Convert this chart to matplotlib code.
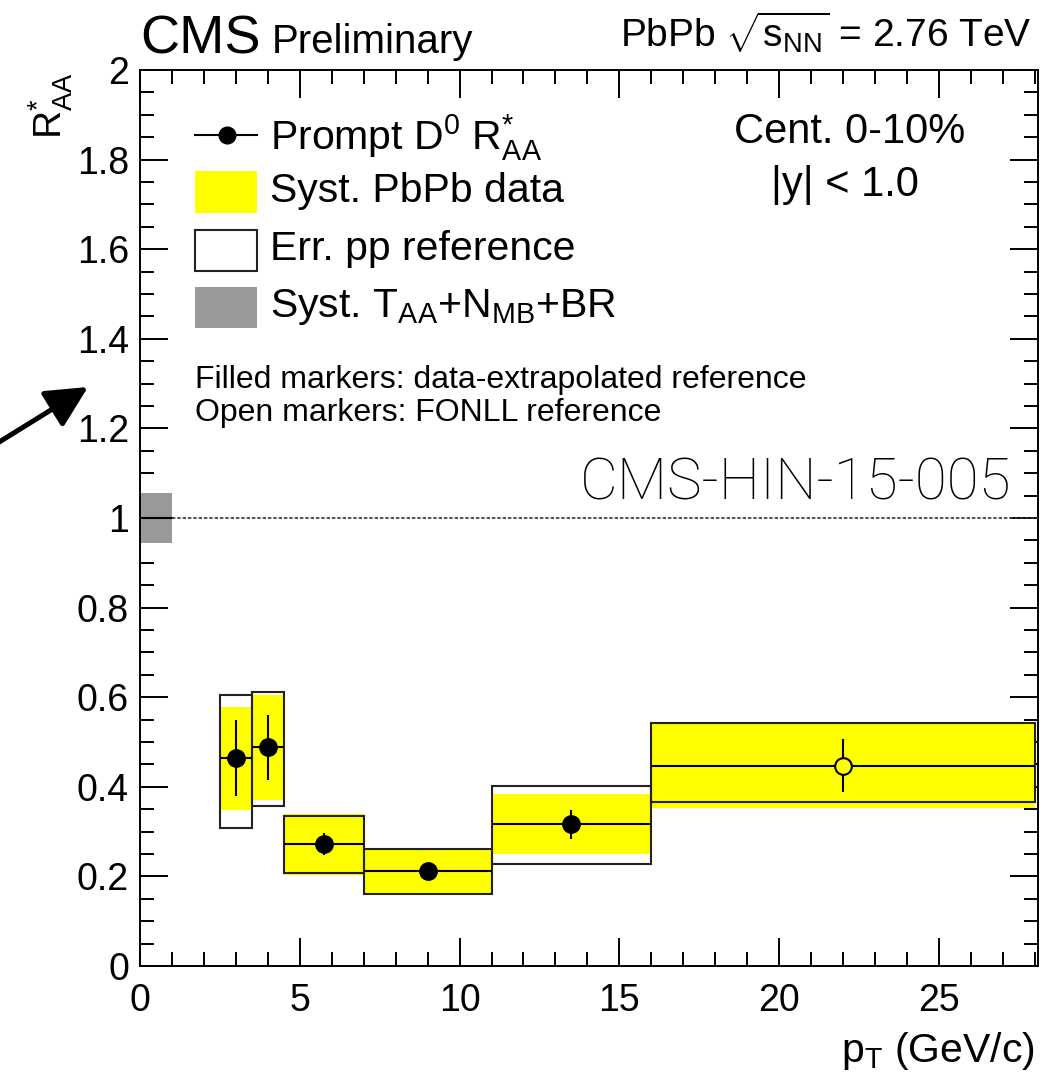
import matplotlib
matplotlib.use("Agg")
import matplotlib.pyplot as plt
from matplotlib.patches import Rectangle, FancyArrowPatch
from matplotlib.lines import Line2D
from matplotlib.ticker import MultipleLocator, FuncFormatter

# ---- D0 nuclear modification factor, PbPb 2.76 TeV, centrality 0-10% ----
pt_lo = [2.5, 3.5, 4.5, 7.0, 11.0, 16.0]
pt_hi = [3.5, 4.5, 7.0, 11.0, 16.0, 28.0]
pt_mean = [3.0, 4.0, 5.75, 9.0, 13.5, 22.0]
raa = [0.464, 0.488, 0.272, 0.211, 0.316, 0.447]
stat_err = [0.084, 0.072, 0.024, 0.012, 0.032, 0.059]
syst_pbpb = [0.115, 0.117, 0.068, 0.051, 0.067, 0.095]
pp_err_lo = [0.155, 0.130, 0.065, 0.051, 0.089, 0.080]
pp_err_hi = [0.141, 0.124, 0.062, 0.051, 0.086, 0.095]
fonll_ref = [False, False, False, False, False, True]
global_syst = 0.055

plt.rcParams["font.family"] = ["Liberation Sans", "DejaVu Sans"]
plt.rcParams["mathtext.fontset"] = "custom"
plt.rcParams["mathtext.rm"] = "Liberation Sans"
plt.rcParams["mathtext.it"] = "Liberation Sans:italic"
plt.rcParams["mathtext.bf"] = "Liberation Sans:bold"
plt.rcParams["mathtext.sf"] = "Liberation Sans"

W, H = 1042, 1085
fig = plt.figure(figsize=(W / 100, H / 100), dpi=100)


def fx(px):
    return px / W


def fy(py):
    return 1 - py / H


ax = fig.add_axes([fx(140), fy(966), fx(898), 896 / H])
ax.set_xlim(0, 28.1)
ax.set_ylim(0, 2)

YELLOW = "#ffff00"
GREY = "#999999"

# systematic (yellow) and pp-reference (open box) uncertainties
for lo, hi, r, s, el, eh in zip(pt_lo, pt_hi, raa, syst_pbpb, pp_err_lo, pp_err_hi):
    ax.add_patch(Rectangle((lo, r - s), hi - lo, 2 * s, facecolor=YELLOW,
                           edgecolor="none", zorder=2))
    ax.add_patch(Rectangle((lo, r - el), hi - lo, el + eh, fill=False,
                           edgecolor="#222222", lw=1.5, zorder=3))

# global normalisation uncertainty at unity
ax.add_patch(Rectangle((0, 1 - global_syst), 1, 2 * global_syst,
                       facecolor=GREY, edgecolor="none", zorder=2))
ax.plot([0, 1], [1, 1], color="black", lw=1.5, zorder=3)
ax.plot([1, 28.1], [1, 1], color="#333333", lw=1.2, dashes=(2.0, 1.2), zorder=3)

# statistical errors and bin widths
xerr_lo = [m - lo for m, lo in zip(pt_mean, pt_lo)]
xerr_hi = [hi - m for m, hi in zip(pt_mean, pt_hi)]
ax.errorbar(pt_mean, raa, xerr=[xerr_lo, xerr_hi], yerr=stat_err, fmt="none",
            ecolor="black", elinewidth=1.5, capsize=0, zorder=4)

filled_x = [x for x, f in zip(pt_mean, fonll_ref) if not f]
filled_y = [y for y, f in zip(raa, fonll_ref) if not f]
open_x = [x for x, f in zip(pt_mean, fonll_ref) if f]
open_y = [y for y, f in zip(raa, fonll_ref) if f]
ax.plot(filled_x, filled_y, "o", color="black", ms=12.5, zorder=5)
ax.plot(open_x, open_y, "o", mfc=YELLOW, mec="black", mew=1.5, ms=12, zorder=5)

# axes styling
for sp in ax.spines.values():
    sp.set_linewidth(1.4)
ax.xaxis.set_major_locator(MultipleLocator(5))
ax.xaxis.set_minor_locator(MultipleLocator(1))
ax.yaxis.set_major_locator(MultipleLocator(0.2))
ax.yaxis.set_minor_locator(MultipleLocator(0.05))
fmt = FuncFormatter(lambda v, _: "%g" % round(v, 3))
ax.xaxis.set_major_formatter(fmt)
ax.yaxis.set_major_formatter(fmt)
ax.tick_params(which="both", direction="in", top=True, right=True, width=1.4,
               labelsize=27)
ax.tick_params(which="major", length=20)
ax.tick_params(which="minor", length=10)
ax.tick_params(axis="x", pad=12)
ax.tick_params(axis="y", pad=8)

# axis titles
fig.text(fx(51), fy(72), r"R$^{*}_{\mathrm{AA}}$", rotation=90, ha="center",
         va="top", fontsize=28)
fig.text(fx(1035), fy(1062), r"p$_{\mathrm{T}}$ (GeV/c)", ha="right",
         va="baseline", fontsize=29.5)

# header
fig.text(fx(140), fy(53), "CMS", fontsize=39, ha="left", va="baseline")
fig.text(fx(272), fy(53), "Preliminary", fontsize=29, ha="left", va="baseline")
fig.text(fx(1032), fy(47), r"PbPb $\sqrt{\mathrm{s}_{\mathrm{NN}}}$ = 2.76 TeV",
         fontsize=28, ha="right", va="baseline")

# legend
fig.add_artist(Line2D([fx(195), fx(257)], [fy(135), fy(135)], color="black",
                      lw=1.5, transform=fig.transFigure))
fig.add_artist(Line2D([fx(227)], [fy(135)], marker="o", color="black", ms=12,
                      transform=fig.transFigure))
fig.add_artist(Rectangle((fx(195), fy(213)), fx(62), 42 / H, facecolor=YELLOW,
                         edgecolor="none", transform=fig.transFigure))
fig.add_artist(Rectangle((fx(195), fy(271)), fx(62), 41 / H, fill=False,
                         edgecolor="#222222", lw=1.5, transform=fig.transFigure))
fig.add_artist(Rectangle((fx(195), fy(328)), fx(62), 41 / H, facecolor=GREY,
                         edgecolor="none", transform=fig.transFigure))
leg_labels = [r"Prompt D$^{0}$ R$^{*}_{\mathrm{AA}}$", "Syst. PbPb data",
              "Err. pp reference",
              r"Syst. T$_{\mathrm{AA}}$+N$_{\mathrm{MB}}$+BR"]
for lab, base in zip(leg_labels, [150, 202, 260, 317]):
    fig.text(fx(270), fy(base), lab, fontsize=29.5, ha="left", va="baseline")

fig.text(fx(195), fy(388), "Filled markers: data-extrapolated reference",
         fontsize=23, ha="left", va="baseline")
fig.text(fx(195), fy(421), "Open markers: FONLL reference",
         fontsize=23, ha="left", va="baseline")

fig.text(fx(850), fy(143), "Cent. 0-10%", fontsize=30, ha="center", va="baseline")
fig.text(fx(845), fy(196), "|y| < 1.0", fontsize=30, ha="center", va="baseline")

fig.text(fx(580), fy(500), "CMS-HIN-15-005", fontsize=42, ha="left",
         va="baseline", family=["Roboto", "Liberation Sans"], weight="light")

# pointer arrow at the left margin
fig.add_artist(FancyArrowPatch((fx(-4), fy(444)), (fx(88), fy(387)),
                               transform=fig.transFigure,
                               arrowstyle="-|>,head_length=1.5,head_width=0.75",
                               mutation_scale=17, lw=3.6, color="black",
                               shrinkA=0, shrinkB=0))

fig.savefig("out.png", dpi=100)
